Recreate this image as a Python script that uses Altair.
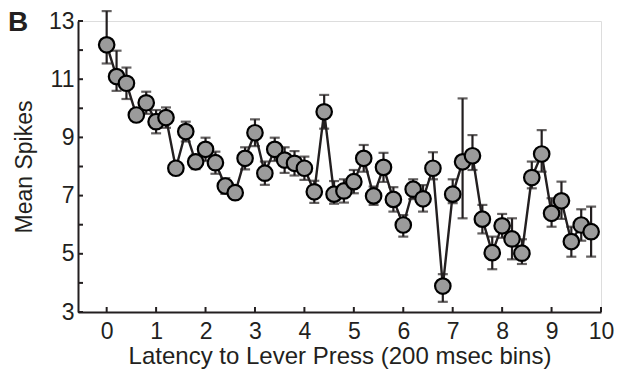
import altair as alt
import pandas as pd

# Latency bins (200 ms each, expressed on a 0-10 axis)
latency = [round(i * 0.2, 1) for i in range(50)]

mean_spikes = [
    12.18, 11.09, 10.86, 9.77, 10.19, 9.54, 9.68, 7.94, 9.20, 8.16,
    8.59, 8.13, 7.33, 7.10, 8.28, 9.16, 7.77, 8.59, 8.22, 8.11,
    7.94, 7.13, 9.88, 7.05, 7.16, 7.48, 8.28, 6.99, 7.97, 6.87,
    5.99, 7.22, 6.89, 7.94, 3.89, 7.05, 8.16, 8.37, 6.19, 5.04,
    5.96, 5.51, 5.02, 7.62, 8.43, 6.39, 6.82, 5.42, 5.99, 5.76,
]

err_high = [
    13.34, 11.98, 11.40, 9.97, 10.57, 9.94, 10.03, 8.14, 9.54, 8.41,
    8.99, 8.51, 7.60, 7.30, 8.66, 9.62, 8.17, 8.99, 8.66, 8.53,
    8.34, 7.51, 10.46, 7.50, 7.56, 7.88, 8.74, 7.31, 8.47, 7.29,
    6.33, 7.56, 7.36, 8.49, 4.30, 7.56, 10.34, 9.08, 6.68, 5.59,
    6.37, 6.22, 5.50, 8.17, 9.25, 6.91, 7.48, 5.93, 6.53, 6.62,
]

err_low = [
    11.54, 10.60, 10.32, 9.57, 9.81, 9.14, 9.33, 7.74, 8.86, 7.91,
    8.19, 7.75, 7.06, 6.90, 7.90, 8.70, 7.37, 8.19, 7.78, 7.69,
    7.54, 6.75, 9.30, 6.72, 6.76, 7.08, 7.82, 6.68, 7.47, 6.45,
    5.59, 6.88, 6.45, 7.56, 3.35, 6.74, 6.22, 7.88, 5.70, 4.47,
    5.55, 4.81, 4.65, 7.25, 7.82, 5.93, 6.20, 4.90, 5.45, 4.90,
]

x_ticks = list(range(0, 11))
y_ticks = list(range(3, 14))
y_labels = [3, 5, 7, 9, 11, 13]

INK = "#231f20"
FONT = "Liberation Sans"
W, H = 523, 291

df = pd.DataFrame({"latency": latency, "mean": mean_spikes,
                   "lo": err_low, "hi": err_high})

x_scale = alt.Scale(domain=[-0.58, 10], nice=False, zero=False)
y_scale = alt.Scale(domain=[3, 13], nice=False, zero=False)

x_enc = alt.X("latency:Q", scale=x_scale,
              axis=alt.Axis(values=x_ticks, title="Latency to Lever Press (200 msec bins)",
                            tickSize=0, labelPadding=8, labelFontSize=23, labelFlush=False,
                            titleFontSize=24, titlePadding=1, titleFontWeight="normal",
                            domainColor=INK, domainWidth=2, labelColor=INK,
                            titleColor=INK, grid=False, labelFont=FONT, titleFont=FONT))
y_axis = alt.Axis(values=y_labels, title="Mean Spikes", tickSize=0, labelPadding=4,
                  labelFontSize=23, titleFontSize=23, titlePadding=12, labelFlush=False,
                  titleFontWeight="normal", domainColor=INK, domainWidth=2,
                  labelColor=INK, titleColor=INK, grid=False,
                  labelFont=FONT, titleFont=FONT)

base = alt.Chart(df)

bars = base.mark_rule(color=INK, strokeWidth=2.2).encode(
    x=x_enc,
    y=alt.Y("lo:Q", scale=y_scale, axis=y_axis),
    y2="hi:Q",
)
cap_hi = base.mark_tick(color=INK, orient="horizontal", size=10, thickness=2.2).encode(
    x="latency:Q", y="hi:Q")
cap_lo = base.mark_tick(color=INK, orient="horizontal", size=10, thickness=2.2).encode(
    x="latency:Q", y="lo:Q")

line = base.mark_line(color=INK, strokeWidth=2.4).encode(x="latency:Q", y="mean:Q")

points = base.mark_point(filled=True, shape="circle", size=240, fill="#9b9b9b",
                         stroke="#000000", strokeWidth=2.2, opacity=1).encode(
    x="latency:Q", y="mean:Q")

# inward-pointing axis ticks
xt = alt.Chart(pd.DataFrame({"t": x_ticks})).mark_rule(color=INK, strokeWidth=2).encode(
    x="t:Q", y=alt.value(H), y2=alt.value(H - 5))
yt = alt.Chart(pd.DataFrame({"t": y_ticks})).mark_rule(color=INK, strokeWidth=2).encode(
    y="t:Q", x=alt.value(0), x2=alt.value(5))

panel = alt.Chart(pd.DataFrame({"s": ["B"]})).mark_text(
    font=FONT, fontSize=28, fontWeight="bold", color=INK, align="left", baseline="middle"
).encode(text="s:N", x=alt.value(-70), y=alt.value(2))

chart = alt.layer(bars, cap_hi, cap_lo, line, points, xt, yt, panel).properties(
    width=W, height=H,
    autosize=alt.AutoSizeParams(type="none"),
    padding={"left": 78, "top": 21, "right": 19, "bottom": 61},
).configure_view(stroke=None).configure(background="white")

chart.save("out.html", embed_options={"renderer": "svg", "actions": False})
